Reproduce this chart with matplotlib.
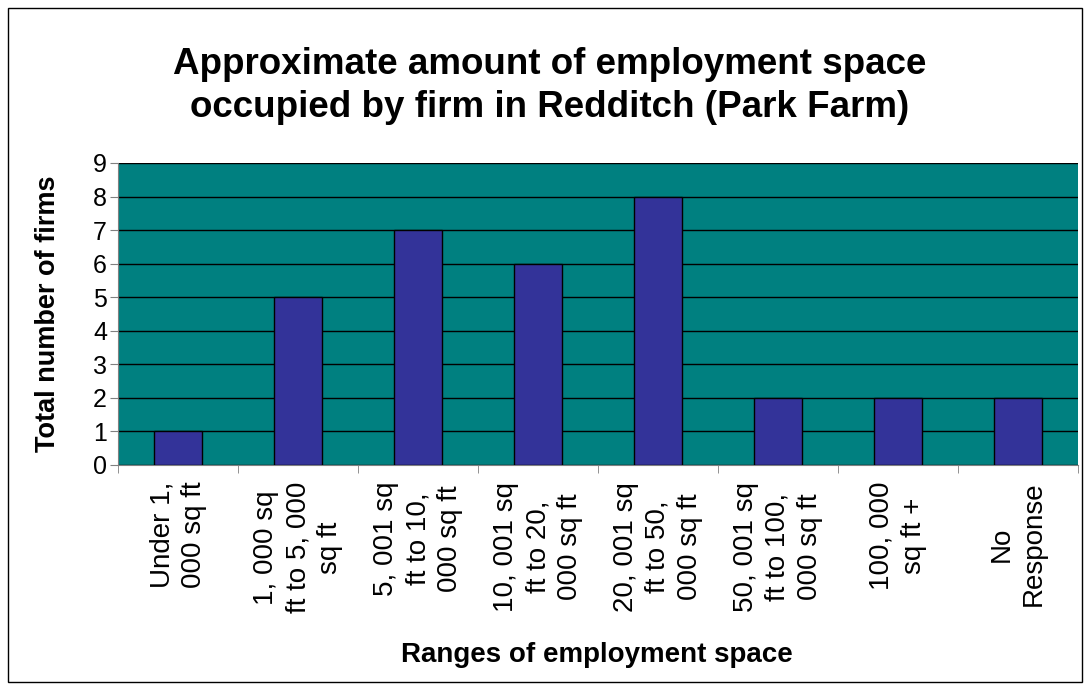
import matplotlib
matplotlib.use("Agg")
import matplotlib.pyplot as plt
import numpy as np

plt.rcParams['font.family'] = ['Liberation Sans', 'DejaVu Sans']

categories = [
    "Under 1,\n000 sq ft",
    "1, 000 sq\nft to 5, 000\nsq ft",
    "5, 001 sq\nft to 10,\n000 sq ft",
    "10, 001 sq\nft to 20,\n000 sq ft",
    "20, 001 sq\nft to 50,\n000 sq ft",
    "50, 001 sq\nft to 100,\n000 sq ft",
    "100, 000\nsq ft +",
    "No\nResponse",
]
firms = [1, 5, 7, 6, 8, 2, 2, 2]
yticks = list(range(0, 10))

fig = plt.figure(figsize=(10.85, 6.84), dpi=100)
ax = fig.add_axes([0.1088, 0.3202, 0.8847, 0.4415])
ax.set_facecolor('#008080')

x = np.arange(len(categories))
ax.bar(x, firms, width=0.4, color='#333399', edgecolor='black', linewidth=1, zorder=3)

ax.set_xlim(-0.5, len(categories) - 0.5)
ax.set_ylim(0, 9)
ax.set_yticks(yticks)
ax.yaxis.grid(True, color='black', linewidth=1, zorder=1)
ax.set_axisbelow(True)

ax.set_xticks(x)
ax.set_xticklabels(categories, rotation=90, fontsize=20, linespacing=1.3, ha='center', va='top', multialignment='center')
ax.tick_params(axis='x', length=0, pad=12)
ax.set_xticks(np.arange(len(categories) + 1) - 0.5, minor=True)
ax.tick_params(axis='x', which='minor', length=6, color='#808080')
ax.tick_params(axis='y', labelsize=18, length=6, color='#808080', pad=2)

for s in ['top', 'right']:
    ax.spines[s].set_visible(False)
ax.spines['left'].set_color('#808080')
ax.spines['bottom'].set_color('#808080')

fig.text(0.044, 0.542, 'Total number of firms', fontsize=19.5, fontweight='bold',
         rotation=90, ha='center', va='center')
fig.text(0.550, 0.042, 'Ranges of employment space', fontsize=20, fontweight='bold', ha='center', va='center')
fig.text(0.507, 0.874, 'Approximate amount of employment space\noccupied by firm in Redditch (Park Farm)',
         fontsize=26.5, fontweight='bold', ha='center', va='center', linespacing=1.3)

fig.patches.append(plt.Rectangle((0.007, 0.003), 0.99, 0.985, transform=fig.transFigure,
                                 fill=False, edgecolor='black', linewidth=1))

fig.savefig('out.png', dpi=100)
